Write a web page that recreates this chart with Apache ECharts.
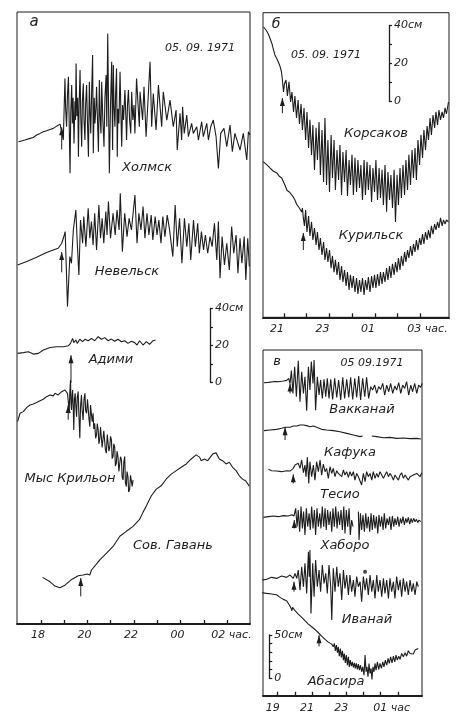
<!DOCTYPE html>
<html>
<head>
<meta charset="utf-8">
<script src="https://cdn.jsdelivr.net/npm/echarts@6/dist/echarts.min.js"></script>
<style>
  html, body { margin: 0; padding: 0; background: #fff; }
  #chart { width: 463px; height: 720px; }
</style>
</head>
<body>
<div id="chart"></div>
<script>
// Tsunami of 5 Sept 1971: tide-gauge records.
// Time in hours, counted on past midnight (24 = 00 h, 26 = 02 h); sea level in cm
// relative to each record's own starting level.

// ---- Panel а ----
const kholmsk = [[17.03,0.2],[17.31,1.1],[17.53,2.0],[17.67,2.5],[17.81,3.8],[17.96,4.7],[18.10,5.6],[18.24,6.1],[18.39,6.8],[18.53,7.4],[18.67,8.6],[18.82,9.7],[18.89,10.1],[18.96,1.1],[19.03,34.4],[19.06,18],[19.10,8.3],[19.14,26],[19.18,35.3],[19.21,12],[19.25,-16.9],[19.28,16],[19.32,30.8],[19.35,10],[19.38,24],[19.42,-0.7],[19.46,22],[19.48,12],[19.51,42.5],[19.54,14],[19.58,24],[19.61,-7.9],[19.64,20],[19.68,38.9],[19.71,14],[19.75,-2.5],[19.78,22],[19.82,31.7],[19.85,12],[19.89,1.1],[19.92,20],[19.96,30.8],[20.00,10],[20.04,-7.9],[20.08,32.6],[20.11,16],[20.14,4.7],[20.18,28],[20.22,47.0],[20.25,-6.1],[20.29,24],[20.32,10],[20.36,18],[20.39,29.9],[20.43,12],[20.47,-5.2],[20.51,33.5],[20.54,14],[20.58,4.7],[20.61,32.6],[20.66,12],[20.71,-2.5],[20.75,24],[20.80,36.2],[20.83,8.3],[20.87,58.7],[20.94,-16.9],[20.99,20],[21.04,43.4],[21.08,-4.3],[21.11,41.6],[21.14,20],[21.18,8.3],[21.21,26],[21.25,39.8],[21.28,-7.9],[21.31,18],[21.35,10],[21.40,38.0],[21.44,14],[21.47,-2.5],[21.51,20],[21.55,12],[21.61,28.1],[21.65,14],[21.68,1.1],[21.72,20],[21.76,28.1],[21.81,12],[21.86,4.7],[21.90,27.2],[21.95,12],[22.00,20],[22.04,4.7],[22.11,34.4],[22.23,8.3],[22.26,27.2],[22.37,11.9],[22.43,29.9],[22.52,2.9],[22.69,43.4],[22.76,8.3],[22.83,26.3],[22.95,6.5],[23.05,30.8],[23.19,8.3],[23.26,27.2],[23.41,11.9],[23.55,22.7],[23.69,8.3],[23.81,17.3],[23.86,-4.3],[23.98,15.5],[24.05,1.1],[24.09,19.1],[24.16,4.7],[24.27,14.6],[24.34,2.9],[24.48,10.1],[24.55,4.7],[24.70,8.3],[24.77,1.1],[24.91,11.0],[24.98,2.9],[25.13,10.1],[25.20,1.1],[25.30,8.3],[25.41,11.9],[25.53,2.9],[25.63,-14.2],[25.73,4.7],[25.87,7.4],[25.99,-2.5],[26.13,9.2],[26.23,-5.2],[26.34,4.7],[26.42,5.6],[26.56,-4.3],[26.70,4.7],[26.85,-9.7],[26.92,5.6],[26.99,3.8]];
const nevelsk = [[16.99,0],[17.39,1.8],[17.81,4.1],[18.24,6.7],[18.53,8.1],[18.74,9.0],[18.89,11.7],[18.96,14.4],[19.04,18.0],[19.14,-22.5],[19.24,4.5],[19.31,0.9],[19.39,18.9],[19.50,29.7],[19.56,11.7],[19.63,-5.4],[19.70,24.3],[19.79,11.7],[19.84,26.1],[19.93,9.9],[20.03,30.6],[20.10,14.4],[20.17,23.4],[20.24,10.8],[20.31,27.9],[20.39,8.1],[20.49,32.4],[20.56,14.4],[20.63,25.2],[20.70,11.7],[20.79,28.8],[20.84,16.2],[20.90,34.2],[20.99,14.4],[21.10,27.9],[21.19,16.2],[21.27,29.7],[21.36,18.9],[21.41,38.7],[21.50,7.2],[21.60,27.9],[21.70,15.3],[21.79,25.2],[21.89,18.9],[22.04,37.8],[22.13,11.7],[22.21,27.9],[22.30,18.9],[22.39,31.5],[22.47,14.4],[22.56,27.9],[22.64,16.2],[22.74,27.0],[22.81,13.5],[22.91,26.1],[22.99,16.2],[23.07,24.3],[23.16,11.7],[23.24,26.1],[23.33,15.3],[23.43,27.0],[23.53,18.9],[23.67,4.5],[23.77,32.4],[23.86,9.9],[23.96,25.2],[24.06,0.9],[24.17,25.2],[24.27,9.9],[24.36,22.5],[24.44,2.7],[24.56,24.3],[24.64,9.9],[24.74,22.5],[24.81,6.3],[24.90,18.0],[24.99,8.1],[25.07,16.2],[25.17,6.3],[25.27,15.3],[25.36,9.9],[25.46,22.5],[25.56,2.7],[25.63,23.4],[25.70,-7.2],[25.79,15.3],[25.89,0],[25.99,11.7],[26.10,-2.7],[26.20,20.7],[26.29,6.3],[26.39,16.2],[26.47,-4.5],[26.56,14.4],[26.64,0.9],[26.74,15.3],[26.81,-8.1],[26.89,14.4],[26.96,-0.9]];
const adimi = [[16.99,0],[17.24,0.4],[17.46,0.9],[17.67,-0.4],[17.89,0],[18.10,1.8],[18.39,3.2],[18.67,3.6],[18.96,3.6],[19.17,4.1],[19.27,5.4],[19.36,8.1],[19.41,5.8],[19.50,7.2],[19.56,5.4],[19.67,7.6],[19.79,6.3],[19.89,7.6],[20.03,6.8],[20.17,8.1],[20.31,6.8],[20.46,9.0],[20.60,7.6],[20.74,8.5],[20.89,6.8],[21.03,7.7],[21.17,6.5],[21.31,7.6],[21.46,6.3],[21.60,6.8],[21.74,5.4],[21.89,6.5],[22.03,5.8],[22.13,4.5],[22.24,6.8],[22.39,4.5],[22.53,6.3],[22.67,4.9],[22.81,6.8],[22.93,7.2]];
const krilon = [[16.99,0],[17.10,4.5],[17.24,5.4],[17.39,7.7],[17.53,9.0],[17.67,9.5],[17.81,10.3],[17.96,11.3],[18.10,12.1],[18.24,13.5],[18.39,14.4],[18.53,13.9],[18.60,15.3],[18.74,14.4],[18.89,16.2],[19.03,17.1],[19.14,15.3],[19.18,10],[19.21,4.5],[19.24,16],[19.27,22.5],[19.29,10],[19.31,6.3],[19.34,14],[19.36,17.1],[19.39,6],[19.41,-4.5],[19.44,12],[19.47,15.3],[19.50,8],[19.53,2.7],[19.56,13],[19.60,16.2],[19.63,4],[19.67,-9.0],[19.70,8],[19.74,14.4],[19.77,6],[19.81,0.9],[19.85,12],[19.89,15.3],[19.92,6],[19.96,4.5],[20.00,12],[20.03,11.7],[20.06,2],[20.10,-2.7],[20.13,9],[20.17,8.1],[20.20,0],[20.24,4.5],[20.27,-4],[20.31,-0.9],[20.35,-9],[20.39,-7.2],[20.42,-1],[20.46,-4.5],[20.49,-12],[20.53,-9.0],[20.56,-3],[20.60,-2.7],[20.63,-14],[20.67,-13.5],[20.70,-5],[20.74,-4.5],[20.77,-15],[20.81,-17.1],[20.85,-7],[20.89,-6.3],[20.92,-16],[20.96,-13.5],[20.99,-8],[21.03,-9.9],[21.06,-20],[21.10,-18.9],[21.13,-12],[21.17,-13.5],[21.20,-24],[21.24,-22.5],[21.27,-16],[21.31,-18.9],[21.35,-27],[21.39,-26.1],[21.42,-19],[21.46,-20.7],[21.49,-30],[21.53,-31.5],[21.56,-22],[21.60,-18.9],[21.63,-33],[21.67,-35.1],[21.70,-27],[21.74,-29.7],[21.77,-38],[21.81,-36.9],[21.85,-29],[21.89,-28.8],[21.92,-35],[21.96,-31.5]];
const sovGavan = [[18.07,-0.2],[18.39,-2.6],[18.60,-4.9],[18.81,-5.8],[19.03,-4.4],[19.32,-1.3],[19.60,0.7],[19.81,1.1],[19.98,1.6],[20.10,1.1],[20.17,3.8],[20.39,7.1],[20.53,9.3],[20.82,12.9],[21.10,16.5],[21.39,22.0],[21.67,24.7],[21.96,27.4],[22.24,31.1],[22.38,34.8],[22.53,38.4],[22.74,43.8],[22.96,47.5],[23.17,49.3],[23.39,53.0],[23.60,55.6],[23.82,57.5],[24.03,59.3],[24.25,61.1],[24.46,63.8],[24.67,66.0],[24.82,64.8],[24.89,62.9],[25.03,63.8],[25.17,62.9],[25.39,66.6],[25.53,67.1],[25.67,63.8],[25.81,62.9],[25.96,61.1],[26.10,62.0],[26.24,59.3],[26.39,57.5],[26.53,54.7],[26.67,52.9],[26.81,51.9],[26.96,49.1]];

// ---- Panel б ----
const korsakov = [[20.10,38.4],[20.21,36.8],[20.31,34.7],[20.38,32.6],[20.46,30.0],[20.54,26.3],[20.60,23.7],[20.69,21.6],[20.75,20.0],[20.82,17.9],[20.89,14.7],[20.93,10.5],[20.98,4.2],[21.02,8.4],[21.09,10.5],[21.15,2.1],[21.22,9.5],[21.29,-1.1],[21.35,4.2],[21.42,-6.3],[21.48,2.1],[21.55,-9.5],[21.62,0],[21.68,-12.6],[21.75,-2.1],[21.81,-15.8],[21.88,-4.2],[21.95,-21.1],[22.01,-6.3],[22.08,-25.3],[22.14,-10.5],[22.21,-28.9],[22.27,-13.2],[22.34,-36.8],[22.41,-14.7],[22.47,-31.6],[22.54,-11.6],[22.60,-39.5],[22.67,-15.8],[22.74,-43.2],[22.80,-9.5],[22.87,-44.7],[22.93,-21.1],[23.00,-48.4],[23.07,-18.4],[23.13,-41.1],[23.20,-21.1],[23.26,-47.4],[23.33,-26.3],[23.40,-42.1],[23.46,-23.7],[23.53,-50.0],[23.59,-27.4],[23.66,-43.2],[23.73,-26.3],[23.79,-50.5],[23.86,-31.6],[23.92,-44.7],[23.99,-28.9],[24.05,-50.0],[24.12,-30.5],[24.19,-48.4],[24.25,-31.6],[24.32,-46.3],[24.38,-34.2],[24.45,-52.6],[24.52,-31.6],[24.58,-50.0],[24.65,-32.6],[24.71,-47.4],[24.78,-34.2],[24.85,-53.7],[24.91,-35.8],[24.98,-48.4],[25.04,-31.6],[25.11,-52.6],[25.18,-35.8],[25.24,-51.6],[25.31,-36.8],[25.37,-55.3],[25.44,-34.2],[25.51,-58.9],[25.57,-37.9],[25.64,-52.6],[25.70,-39.5],[25.77,-56.8],[25.84,-36.8],[25.90,-64.2],[25.97,-39.5],[26.03,-55.3],[26.10,-35.8],[26.16,-51.6],[26.23,-34.2],[26.30,-50.0],[26.36,-31.6],[26.43,-47.4],[26.49,-28.9],[26.56,-44.7],[26.63,-26.3],[26.69,-41.1],[26.76,-25.3],[26.82,-42.1],[26.89,-21.1],[26.96,-34.2],[27.02,-18.4],[27.09,-30.5],[27.15,-15.8],[27.22,-26.3],[27.29,-13.7],[27.35,-21.1],[27.42,-9.5],[27.48,-18.4],[27.55,-7.9],[27.62,-14.7],[27.68,-6.3],[27.75,-13.2],[27.81,-5.3],[27.88,-10.5],[27.95,-6.3],[28.01,-9.5],[28.08,-4.2],[28.14,-7.4],[28.23,-1.1]];
const kurilsk = [[20.09,0],[20.25,-1.7],[20.38,-3.3],[20.52,-4.9],[20.68,-5.9],[20.78,-7.5],[20.90,-8.6],[20.98,-10.7],[21.04,-12.3],[21.13,-15.0],[21.19,-15.7],[21.26,-16.2],[21.34,-16.9],[21.42,-18.8],[21.48,-20.2],[21.55,-22.3],[21.63,-23.6],[21.70,-24.9],[21.78,-26.5],[21.81,-24.4],[21.85,-29.6],[21.90,-33.8],[21.95,-25.4],[22.01,-37.0],[22.08,-28.6],[22.14,-39.1],[22.21,-31.7],[22.27,-41.2],[22.34,-34.9],[22.41,-43.8],[22.47,-37.0],[22.54,-46.5],[22.60,-40.2],[22.67,-49.1],[22.74,-42.3],[22.80,-51.7],[22.87,-45.4],[22.93,-52.8],[23.00,-46.5],[23.07,-56.0],[23.13,-49.6],[23.20,-58.1],[23.26,-51.7],[23.33,-59.6],[23.40,-52.8],[23.46,-62.3],[23.53,-54.9],[23.59,-63.3],[23.66,-57.0],[23.73,-65.4],[23.79,-58.1],[23.86,-67.5],[23.92,-59.6],[23.99,-66.5],[24.05,-60.2],[24.12,-68.6],[24.19,-61.2],[24.25,-69.6],[24.32,-62.3],[24.38,-68.6],[24.45,-61.2],[24.52,-70.2],[24.58,-62.3],[24.65,-67.5],[24.71,-60.7],[24.78,-68.6],[24.85,-60.2],[24.91,-66.5],[24.98,-59.6],[25.04,-66.5],[25.11,-59.1],[25.18,-65.4],[25.24,-58.1],[25.31,-64.4],[25.37,-58.1],[25.44,-63.3],[25.51,-56.0],[25.57,-62.3],[25.64,-54.9],[25.70,-61.2],[25.77,-53.8],[25.84,-59.6],[25.90,-52.8],[25.97,-58.1],[26.03,-50.7],[26.10,-57.0],[26.16,-49.6],[26.23,-54.9],[26.30,-47.5],[26.36,-52.8],[26.43,-46.5],[26.49,-50.7],[26.56,-44.4],[26.63,-49.6],[26.69,-43.3],[26.76,-47.5],[26.82,-41.2],[26.89,-46.5],[26.96,-40.2],[27.02,-43.8],[27.09,-38.1],[27.15,-43.3],[27.22,-37.0],[27.29,-41.2],[27.35,-36.0],[27.42,-40.2],[27.48,-33.8],[27.55,-38.1],[27.62,-32.8],[27.68,-35.9],[27.75,-31.7],[27.81,-34.9],[27.88,-29.6],[27.95,-33.8],[28.01,-30.7],[28.08,-32.8],[28.14,-30.7],[28.23,-31.7]];

// ---- Panel в ----  (null = gap in the record)
const wakkanai = [[18.20,0],[18.46,0.4],[18.75,1.2],[19.04,1.2],[19.33,1.9],[19.52,2.7],[19.64,5.0],[19.72,-0.8],[19.80,13.9],[19.89,-12.3],[19.99,18.5],[20.09,-16.2],[20.20,25.4],[20.30,-21.9],[20.40,12.7],[20.50,-12.3],[20.59,6.9],[20.69,-32.3],[20.79,18.5],[20.88,-8.5],[20.96,24.3],[21.06,-0.8],[21.12,26.2],[21.21,-31.6],[21.31,6.9],[21.41,-14.2],[21.50,3.1],[21.60,-18.1],[21.70,3.9],[21.80,-16.2],[21.89,5.0],[21.99,-18.1],[22.09,3.9],[22.20,-19.3],[22.32,5.0],[22.44,-16.9],[22.55,3.1],[22.67,-20.0],[22.79,6.2],[22.90,-18.1],[23.02,3.9],[23.14,-16.9],[23.25,6.2],[23.37,-19.3],[23.49,5.0],[23.60,-16.9],[23.72,7.7],[23.83,-20.0],[23.95,5.0],[24.07,-16.2],[24.18,6.2],[24.30,-18.1],[24.42,-4.6],[24.53,-8.5],[24.65,-2.7],[24.77,-12.3],[24.88,-4.6],[25.00,-7.7],[25.12,-0.8],[25.23,-14.2],[25.35,-2.7],[25.47,-10.4],[25.58,-0.8],[25.70,-12.3],[25.82,-3.9],[25.93,-8.5],[26.05,0],[26.17,-12.3],[26.28,-2.7],[26.40,-6.5],[26.51,1.2],[26.63,-14.2],[26.75,-2.7],[26.86,-10.4],[26.98,-0.8],[27.10,-12.3],[27.21,-2.7],[27.33,-5.4],[27.41,-0.8]];
const kafuka = [[18.20,0],[18.55,0.8],[18.94,1.5],[19.23,2.7],[19.43,3.9],[19.52,6.2],[19.72,3.9],[19.91,5.4],[20.11,5.4],[20.30,6.5],[20.50,6.5],[20.69,5.8],[20.88,4.6],[21.08,5.4],[21.27,3.9],[21.56,1.5],[21.85,0.8],[22.24,0],[22.63,-1.2],[23.02,-3.1],[23.41,-5.0],[23.80,-6.9],[23.95,-6.2],[24.20,null],[24.48,-6.2],[24.77,-6.9],[25.16,-8.1],[25.54,-7.7],[25.93,-8.9],[26.32,-8.5],[26.71,-9.2],[27.10,-8.9],[27.35,-9.6]];
const teshio = [[18.46,0.8],[18.65,-0.8],[18.94,-1.2],[19.23,-1.9],[19.52,-0.8],[19.72,-1.2],[19.91,1.9],[20.01,5.8],[20.11,4.6],[20.20,7.7],[20.30,1.9],[20.40,11.6],[20.50,-3.1],[20.59,5.8],[20.65,-7.7],[20.73,14.6],[20.81,-15.4],[20.88,9.6],[20.98,-7.7],[21.08,5.8],[21.17,-11.6],[21.27,9.6],[21.37,-1.9],[21.47,11.6],[21.56,-5.8],[21.66,6.9],[21.76,-1.9],[21.85,1.9],[21.95,-9.6],[22.05,3.9],[22.15,-3.9],[22.24,1.9],[22.34,-7.7],[22.44,-0.8],[22.53,-3.9],[22.63,-1.9],[22.73,-7.7],[22.83,0],[22.92,-5.8],[23.02,-1.9],[23.12,-8.5],[23.21,-1.9],[23.31,-6.9],[23.41,-1.9],[23.50,-11.6],[23.60,-3.9],[23.70,-7.7],[23.80,-5.8],[23.89,-17.3],[23.99,-3.9],[24.09,-13.5],[24.18,-1.9],[24.28,-7.7],[24.38,-3.9],[24.48,-11.6],[24.57,-1.9],[24.67,-9.6],[24.77,-3.9],[24.86,-8.5],[24.96,-1.9],[25.06,-3.9],[25.16,-9.6],[25.25,-5.8],[25.35,-1.9],[25.45,-7.7],[25.54,-3.9],[25.64,-6.9],[25.74,-11.6],[25.83,-5.8],[25.93,-4.6],[26.03,-11.6],[26.13,-5.8],[26.22,-3.1],[26.32,-9.6],[26.42,-5.8],[26.51,-7.7],[26.61,-11.6],[26.71,-7.7],[26.81,-9.6],[26.90,-5.8],[27.00,-7.7],[27.10,-3.9],[27.19,-3.1],[27.29,-7.7],[27.39,-3.1]];
const haboro = [[18.17,-0.8],[18.46,0],[18.75,0.8],[19.04,0],[19.33,1.2],[19.62,0.8],[19.82,2.3],[19.95,0.8],[20.05,9.6],[20.13,-11.6],[20.20,7.7],[20.28,-17.3],[20.36,11.6],[20.44,-13.5],[20.51,5.8],[20.59,-21.2],[20.67,9.6],[20.75,-11.6],[20.83,3.9],[20.90,-15.4],[20.98,11.6],[21.06,-13.5],[21.14,7.7],[21.21,-21.2],[21.29,9.6],[21.37,-11.6],[21.45,3.9],[21.52,-13.5],[21.60,11.6],[21.68,-11.6],[21.76,9.6],[21.83,-15.4],[21.91,7.7],[21.99,-9.6],[22.07,5.8],[22.15,-17.3],[22.22,9.6],[22.30,-11.6],[22.38,11.6],[22.46,-13.5],[22.53,5.8],[22.61,-9.6],[22.69,7.7],[22.77,-15.4],[22.85,11.6],[22.92,-19.3],[23.00,7.7],[23.08,-11.6],[23.16,9.6],[23.23,-21.2],[23.31,-3.9],[23.39,-11.6],[23.55,null],[23.70,5.8],[23.74,-27.0],[23.82,3.9],[23.89,-15.4],[23.97,1.9],[24.05,-17.3],[24.13,3.9],[24.20,-13.5],[24.28,0],[24.36,-17.3],[24.44,3.9],[24.51,-15.4],[24.59,1.9],[24.67,-13.5],[24.75,0],[24.83,-19.3],[24.90,1.9],[24.98,-11.6],[25.06,0],[25.14,-15.4],[25.21,3.9],[25.29,-13.5],[25.37,-1.9],[25.45,-9.6],[25.52,0],[25.60,-15.4],[25.68,0.8],[25.76,-11.6],[25.83,-1.9],[25.91,-9.6],[25.99,0],[26.07,-11.6],[26.15,-1.9],[26.22,-7.7],[26.30,0],[26.38,-9.6],[26.46,-1.9],[26.53,-6.9],[26.61,-0.8],[26.69,-8.5],[26.77,-1.9],[26.84,-6.9],[26.92,-1.9],[27.00,-5.8],[27.08,-3.1],[27.16,-6.9],[27.23,-3.9],[27.33,-5.8]];
const iwanai = [[18.07,0],[18.36,0.8],[18.65,3.1],[18.94,1.9],[19.23,4.6],[19.52,3.1],[19.72,5.8],[19.91,1.9],[20.01,7.7],[20.11,1.9],[20.20,11.6],[20.30,-11.6],[20.40,15.4],[20.50,-7.7],[20.59,19.3],[20.69,-15.4],[20.79,32.7],[20.84,3.9],[20.88,34.7],[20.94,-38.5],[21.04,19.3],[21.12,-19.3],[21.21,23.1],[21.31,-7.7],[21.41,11.6],[21.50,-13.5],[21.60,17.3],[21.70,-3.9],[21.80,7.7],[21.89,-15.4],[21.99,17.3],[22.09,-7.7],[22.15,-46.2],[22.24,13.5],[22.34,-13.5],[22.44,15.4],[22.53,-7.7],[22.63,7.7],[22.73,-23.1],[22.83,11.6],[22.92,-9.6],[23.02,5.8],[23.12,-17.3],[23.21,5.8],[23.31,-13.5],[23.41,0],[23.50,-19.3],[23.60,3.9],[23.70,-7.7],[23.80,-1.9],[23.89,-25.0],[23.99,3.9],[24.09,-11.6],[24.18,1.9],[24.28,-17.3],[24.38,5.8],[24.48,-13.5],[24.57,0],[24.67,-21.2],[24.77,5.8],[24.86,-13.5],[24.96,0],[25.06,-19.3],[25.16,1.9],[25.25,-15.4],[25.35,0],[25.45,-21.2],[25.54,1.9],[25.64,-13.5],[25.74,-1.9],[25.83,-21.2],[25.93,3.9],[26.03,-11.6],[26.13,0],[26.22,-19.3],[26.32,1.9],[26.42,-13.5],[26.51,-1.9],[26.61,-17.3],[26.71,0],[26.81,-13.5],[26.90,-3.9],[27.00,-17.3],[27.10,-1.9],[27.19,-7.7]];
const iwanaiDot = [[24.09,9.6]];
const abashiri = [[18.07,0],[18.36,-0.8],[18.65,-1.5],[18.94,-2.3],[19.14,-5.4],[19.33,-7.7],[19.52,-9.2],[19.68,-14.2],[19.76,-16.9],[19.83,-20.8],[19.87,-16.9],[20.01,-20.8],[20.20,-24.6],[20.40,-28.5],[20.59,-32.3],[20.79,-36.2],[20.98,-39.3],[21.17,-42.4],[21.37,-46.2],[21.56,-50.1],[21.76,-53.9],[21.95,-57.0],[22.15,-59.3],[22.24,-62.4],[22.30,-58.5],[22.36,-67.0],[22.42,-60.4],[22.48,-69.3],[22.53,-62.4],[22.59,-73.2],[22.65,-64.3],[22.71,-74.7],[22.77,-67.0],[22.83,-77.8],[22.88,-70.1],[22.94,-80.9],[23.00,-72.0],[23.06,-83.5],[23.12,-73.9],[23.17,-85.5],[23.23,-77.8],[23.29,-84.7],[23.35,-79.7],[23.41,-86.2],[23.47,-80.9],[23.52,-87.4],[23.58,-81.6],[23.64,-88.6],[23.70,-82.4],[23.76,-89.3],[23.82,-83.5],[23.89,-91.2],[23.95,-85.5],[24.03,-95.1],[24.09,-72.0],[24.15,-91.2],[24.20,-85.5],[24.26,-97.0],[24.32,-81.6],[24.38,-93.2],[24.44,-87.4],[24.49,-100.1],[24.55,-85.5],[24.61,-91.2],[24.67,-81.6],[24.73,-89.3],[24.81,-79.7],[24.88,-88.6],[24.96,-81.6],[25.04,-87.4],[25.12,-79.7],[25.19,-85.5],[25.27,-77.8],[25.35,-83.5],[25.43,-75.8],[25.50,-81.6],[25.58,-73.9],[25.66,-80.9],[25.74,-73.2],[25.82,-79.7],[25.89,-72.0],[25.97,-77.8],[26.05,-73.2],[26.13,-77.0],[26.22,-70.1],[26.32,-73.9],[26.42,-69.3],[26.51,-73.2],[26.61,-67.0],[26.71,-70.1],[26.81,-68.1],[26.90,-70.8],[27.00,-66.2],[27.10,-68.1],[27.19,-64.3]];

// Arrival of the first wave: [time, arrow tail cm, arrow tip cm]
const arrivals = {
  'Холмск': [18.89, -4, 8], 'Невельск': [18.89, -4, 7], 'Адими': [19.29, -16, -1],
  'Мыс Крильон': [19.17, 1, 9], 'Сов. Гавань': [19.71, -10.5, -0.5],
  'Корсаков': [20.93, -7, 1], 'Курильск': [21.85, -46.5, -37.5],
  'Вакканай': [19.72, -12.3, -0.8], 'Кафука': [19.43, -10.8, 3.9], 'Тесио': [19.91, -15.4, -5.0],
  'Хаборо': [19.97, -13.5, -3.9], 'Иванай': [19.95, -13.5, -1.9], 'Абасира': [21.41, -62, -49]
};

// Hour ticks and labelled hours of each panel
const ticksA = [18, 19, 20, 21, 22, 23, 24, 25, 26];
const labelsA = [18, 20, 22, 24, 26];
const ticksB = [21, 22, 23, 24, 25, 26, 27];
const labelsB = [21, 23, 25, 27];
const ticksC = [19, 20, 21, 22, 23, 24, 25, 26];
const labelsC = [19, 21, 23, 25];

// ---------- layout ----------
const FONT = '"DejaVu Sans", sans-serif';
const INK = '#1d1d1d';

const panels = [
  { left: 17, top: 12, width: 233, height: 612, cmPx: 1.85, tMin: 16.968, tMax: 26.989,
    ticks: ticksA, labels: labelsA, unit: 'час.', shift: 6, endPad: 9, margin: 6,
    scale: { x: 210, bottom: 382.5, max: 40, step: 10, top: '40см', mid: true } },
  { left: 263, top: 12.7, width: 186, height: 304.6, cmPx: 1.9, tMin: 20.077, tMax: 28.253,
    ticks: ticksB, labels: labelsB, unit: 'час.', shift: 14, endPad: 14, margin: 6,
    scale: { x: 389, bottom: 101.5, max: 40, step: 10, top: '40см', mid: true } },
  { left: 263, top: 350, width: 159, height: 345.7, cmPx: 0.867, tMin: 18.146, tMax: 27.406,
    ticks: ticksC, labels: labelsC, unit: 'час', shift: 10, endPad: 22, margin: 7,
    scale: { x: 269.3, bottom: 678.3, max: 50, step: 10, top: '50см', mid: false } }
];

// Each record: panel, baseline (cm above the panel's time axis), label placement
const traces = [
  { name: 'Холмск', panel: 0, data: kholmsk, base: 260.5, lx: 147, ly: 168 },
  { name: 'Невельск', panel: 0, data: nevelsk, base: 194.1, lx: 127, ly: 272 },
  { name: 'Адими', panel: 0, data: adimi, base: 146.3, lx: 111, ly: 360 },
  { name: 'Мыс Крильон', panel: 0, data: krilon, base: 109.4, lx: 70, ly: 479 },
  { name: 'Сов. Гавань', panel: 0, data: sovGavan, base: 25.4, lx: 173, ly: 546 },
  { name: 'Корсаков', panel: 1, data: korsakov, base: 114.4, lx: 376, ly: 134 },
  { name: 'Курильск', panel: 1, data: kurilsk, base: 81.9, lx: 371, ly: 236 },
  { name: 'Вакканай', panel: 2, data: wakkanai, base: 361.0, lx: 362, ly: 410 },
  { name: 'Кафука', panel: 2, data: kafuka, base: 305.7, lx: 350, ly: 453 },
  { name: 'Тесио', panel: 2, data: teshio, base: 260.3, lx: 340, ly: 495 },
  { name: 'Хаборо', panel: 2, data: haboro, base: 206.5, lx: 345, ly: 546 },
  { name: 'Иванай', panel: 2, data: iwanai, base: 133.4, lx: 367, ly: 620 },
  { name: 'Абасира', panel: 2, data: abashiri, base: 118.8, lx: 336, ly: 682 }
];

const headings = [
  { text: 'а', x: 34, y: 22, size: 15 },
  { text: 'б', x: 276, y: 24, size: 14 },
  { text: 'в', x: 277, y: 362, size: 13 },
  { text: '05. 09. 1971', x: 200, y: 48, size: 11 },
  { text: '05. 09. 1971', x: 326, y: 55, size: 11 },
  { text: '05 09.1971', x: 372, y: 363, size: 11 }
];

const hh = v => String(((v % 24) + 24) % 24).padStart(2, '0');

const grid = [], xAxis = [], yAxis = [], series = [], graphic = [];

panels.forEach((p, i) => {
  grid.push({ left: p.left, top: p.top, width: p.width, height: p.height,
    show: true, borderColor: INK, borderWidth: 1, backgroundColor: 'transparent' });
  const last = p.labels[p.labels.length - 1];
  xAxis.push({
    type: 'value', gridIndex: i, min: p.tMin, max: p.tMax,
    axisLine: { show: true, onZero: false, lineStyle: { color: INK, width: 2 } },
    axisTick: { show: true, inside: true, length: 4, customValues: p.ticks, lineStyle: { color: INK, width: 1.3 } },
    axisLabel: {
      show: true, customValues: p.labels, margin: p.margin,
      formatter: v => (v === last ? `{e|${hh(v)} ${p.unit}}` : `{l|${hh(v)}}`),
      rich: {
        l: { fontFamily: FONT, fontStyle: 'italic', fontSize: 11, color: INK, padding: [0, p.shift, 0, 0] },
        e: { fontFamily: FONT, fontStyle: 'italic', fontSize: 11, color: INK, padding: [0, 0, 0, p.endPad] }
      }
    },
    splitLine: { show: false }
  });
  yAxis.push({ type: 'value', gridIndex: i, min: 0, max: p.height / p.cmPx, show: false, splitLine: { show: false } });
});

// Vertical scale bars in cm, one per panel
panels.forEach(p => {
  const s = p.scale;
  const h = s.max * p.cmPx;
  const gi = grid.length;
  grid.push({ left: s.x, top: s.bottom - h, width: 30, height: h, show: false });
  xAxis.push({ type: 'value', gridIndex: gi, show: false, min: 0, max: 1 });
  yAxis.push({
    type: 'value', gridIndex: gi, min: 0, max: s.max, interval: s.step, position: 'left',
    axisLine: { show: true, lineStyle: { color: INK, width: 1.3 } },
    axisTick: { show: true, inside: true, length: 3, lineStyle: { color: INK, width: 1.2 } },
    splitLine: { show: false },
    axisLabel: {
      show: true, inside: true, margin: 5,
      fontFamily: FONT, fontStyle: 'italic', fontSize: 11, color: INK,
      formatter: v => (v === s.max ? s.top : (v === 0 || (s.mid && v === s.max / 2)) ? String(v) : '')
    }
  });
});

traces.forEach(tr => {
  series.push({
    name: tr.name, type: 'line', xAxisIndex: tr.panel, yAxisIndex: tr.panel,
    data: tr.data.map(([t, v]) => [t, v === null ? '-' : v + tr.base]),
    symbol: 'none', showSymbol: false, connectNulls: false, silent: true,
    lineStyle: { color: INK, width: 1.1 }
  });
  // arrow marking the arrival time
  const a = arrivals[tr.name];
  series.push({
    type: 'line', xAxisIndex: tr.panel, yAxisIndex: tr.panel, silent: true,
    showSymbol: true, showAllSymbol: true, symbol: 'none',
    lineStyle: { color: INK, width: 1 }, itemStyle: { color: INK },
    data: [
      { value: [a[0], a[1] + tr.base], symbol: 'none' },
      { value: [a[0], a[2] + tr.base], symbol: 'triangle', symbolSize: [5, 8], symbolOffset: [0, 4] }
    ]
  });
  graphic.push({ type: 'text', x: tr.lx, y: tr.ly, silent: true,
    style: { text: tr.name, fontFamily: FONT, fontStyle: 'italic', fontSize: 13, fill: INK,
             align: 'center', verticalAlign: 'middle' } });
});

series.push({
  type: 'scatter', xAxisIndex: 2, yAxisIndex: 2, silent: true,
  data: iwanaiDot.map(([t, v]) => [t, v + traces[11].base]),
  symbol: 'circle', symbolSize: 4, itemStyle: { color: INK }
});

headings.forEach(h => graphic.push({ type: 'text', x: h.x, y: h.y, silent: true,
  style: { text: h.text, fontFamily: FONT, fontStyle: 'italic', fontSize: h.size, fill: INK,
           align: 'center', verticalAlign: 'middle' } }));

const chart = echarts.init(document.getElementById('chart'), null, { renderer: 'canvas' });
chart.setOption({ animation: false, backgroundColor: '#fff', grid, xAxis, yAxis, series, graphic });
</script>
</body>
</html>
